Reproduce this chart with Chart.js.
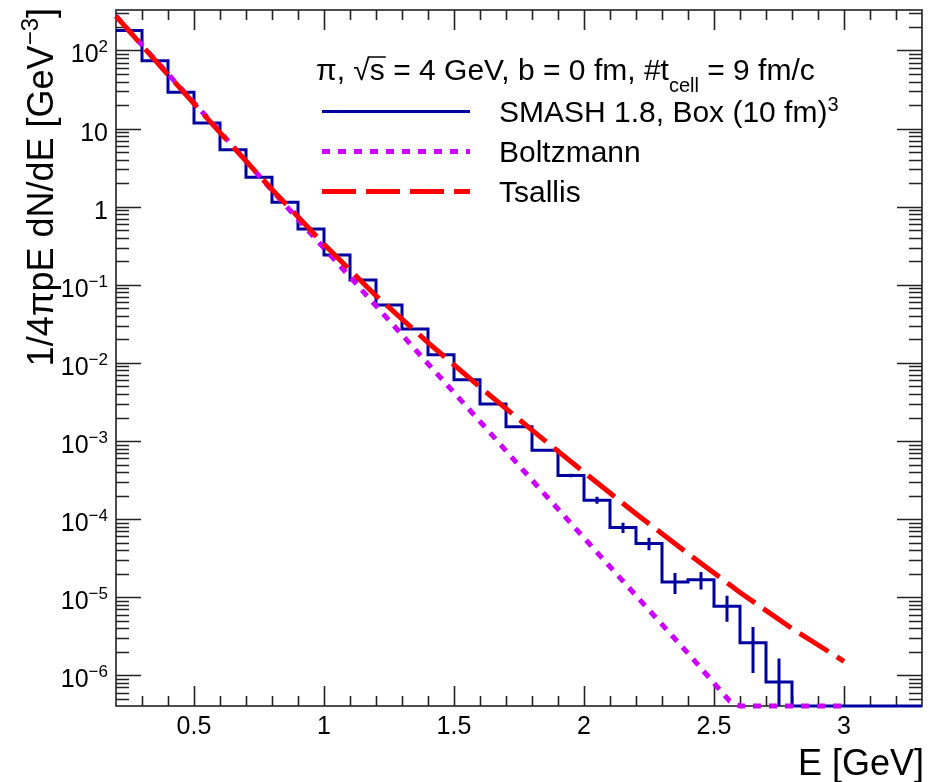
<!DOCTYPE html>
<html>
<head>
<meta charset="utf-8">
<script src="https://cdn.jsdelivr.net/npm/chart.js@4.4.0/dist/chart.umd.min.js"></script>
<style>
  html, body { margin: 0; padding: 0; background: #fff; }
  #wrap { width: 930px; height: 782px; }
</style>
</head>
<body>
<div id="wrap"><canvas id="spectrumChart" width="930" height="782"></canvas></div>
<script>
// histogram bins (E in GeV), 0.1 wide
const binEdges = [0.2, 0.3, 0.4, 0.5, 0.6, 0.7, 0.8, 0.9, 1.0, 1.1, 1.2, 1.3, 1.4, 1.5, 1.6, 1.7,
  1.8, 1.9, 2.0, 2.1, 2.2, 2.3, 2.4, 2.5, 2.6, 2.7, 2.8, 2.9, 3.0, 3.1, 3.2, 3.3];
const smashValues = [180, 73.8, 29.3, 11.8, 5.38, 2.39, 1.14, 0.519, 0.241, 0.115, 0.0551, 0.0272,
  0.0127, 6.08e-3, 2.97e-3, 1.52e-3, 7.64e-4, 3.62e-4, 1.75e-4, 7.82e-5, 4.88e-5, 1.57e-5, 1.68e-5,
  7.65e-6, 2.62e-6, 8.2e-7, 0, 0, 0, 0, 0];
const smashErrors = [0, 0, 0, 0, 0, 0, 0, 0, 0, 0, 0, 0, 0, 6e-5, 4.5e-5, 3e-5, 2.3e-5, 1.8e-5,
  1.8e-5, 1.2e-5, 8.8e-6, 4.7e-6, 4.2e-6, 2.8e-6, 1.55e-6, 8.2e-7, 0, 0, 0, 0, 0];

const boltzmannE = [0.2, 0.4, 0.6, 0.8, 1.0, 1.2, 1.4, 1.6, 1.8, 2.0, 2.2, 2.4, 2.56, 2.6, 2.8, 3.0];
const boltzmannValues = [275, 50.1, 9.12, 1.62, 0.295, 0.0537, 9.77e-3, 1.78e-3, 3.16e-4, 5.75e-5,
  1.05e-5, 1.91e-6, 4.7e-7, 3.5e-7, 6.3e-8, 1.2e-8];

const tsallisE = [0.2, 0.4, 0.6, 0.8, 1.0, 1.2, 1.4, 1.6, 1.8, 2.0, 2.2, 2.4, 2.6, 2.8, 3.0];
const tsallisValues = [275, 49, 8.9, 1.66, 0.331, 0.0724, 0.0182, 4.9e-3, 1.38e-3, 3.98e-4,
  1.17e-4, 3.63e-5, 1.15e-5, 3.98e-6, 1.51e-6];

const xTickValues = [0.5, 1, 1.5, 2, 2.5, 3];
const xTickLabels = ["0.5", "1", "1.5", "2", "2.5", "3"];
const yDecades = [-6, -5, -4, -3, -2, -1, 0, 1, 2];

const X_MIN = 0.2, X_MAX = 3.3;
const Y_MIN = 4.05e-7, Y_MAX = 330;
const FONT = '"Liberation Sans", Arial, Helvetica, sans-serif';
const LEG = 30;

const clampLow = (v) => (v > Y_MIN ? v : Y_MIN);

const histPoints = [];
smashValues.forEach((v, i) => {
  histPoints.push({ x: binEdges[i], y: clampLow(v) }, { x: binEdges[i + 1], y: clampLow(v) });
});

function drawPieces(ctx, x, y, pieces) {
  let cx = x;
  pieces.forEach((p) => {
    ctx.font = p.size + "px " + FONT;
    ctx.fillText(p.t, cx, y + (p.dy || 0));
    cx += ctx.measureText(p.t).width;
  });
  return cx;
}
function piecesWidth(ctx, pieces) {
  let w = 0;
  pieces.forEach((p) => {
    ctx.font = p.size + "px " + FONT;
    w += ctx.measureText(p.t).width;
  });
  return w;
}

const rootFrame = {
  id: "rootFrame",
  beforeDraw(chart) {
    const ctx = chart.ctx;
    ctx.save();
    ctx.fillStyle = "#fff";
    ctx.fillRect(0, 0, chart.width, chart.height);
    ctx.restore();
  },
  beforeDatasetsDraw(chart) {
    const { ctx, chartArea: a, scales: { x, y } } = chart;
    ctx.save();
    ctx.strokeStyle = "#222";
    ctx.lineWidth = 1.6;
    ctx.beginPath();
    // x ticks, every 0.1, major every 0.5
    for (let k = 3; k < 33; k++) {
      const px = Math.round(x.getPixelForValue(k / 10)) + 0.5;
      const len = k % 5 === 0 ? 20 : 10;
      ctx.moveTo(px, a.bottom); ctx.lineTo(px, a.bottom - len);
      ctx.moveTo(px, a.top); ctx.lineTo(px, a.top + len);
    }
    // y ticks, log decades
    for (let e = -7; e <= 2; e++) {
      for (let m = 1; m <= 9; m++) {
        const v = m * Math.pow(10, e);
        if (v < Y_MIN || v > Y_MAX) continue;
        const py = Math.round(y.getPixelForValue(v)) + 0.5;
        const len = m === 1 ? 25 : 13;
        ctx.moveTo(a.left, py); ctx.lineTo(a.left + len, py);
        ctx.moveTo(a.right, py); ctx.lineTo(a.right - len, py);
      }
    }
    ctx.stroke();
    ctx.strokeRect(a.left, a.top, a.right - a.left, a.bottom - a.top);

    // tick labels
    ctx.fillStyle = "#000";
    ctx.textBaseline = "alphabetic";
    ctx.font = "25px " + FONT;
    ctx.textAlign = "center";
    xTickValues.forEach((v, i) => {
      ctx.fillText(xTickLabels[i], x.getPixelForValue(v), 734);
    });
    ctx.textAlign = "left";
    yDecades.forEach((e) => {
      const py = y.getPixelForValue(Math.pow(10, e));
      let pieces;
      if (e === 0) pieces = [{ t: "1", size: 25 }];
      else if (e === 1) pieces = [{ t: "10", size: 25 }];
      else pieces = [{ t: "10", size: 25 }, { t: (e < 0 ? "\u2212" + (-e) : String(e)), size: 17, dy: -10 }];
      const w = piecesWidth(ctx, pieces);
      drawPieces(ctx, 108 - w, py + 12, pieces);
    });

    // axis titles
    ctx.font = "36px " + FONT;
    ctx.textAlign = "right";
    ctx.fillText("E [GeV]", 924, 775);
    ctx.textAlign = "left";
    const yTitle = [
      { t: "1/4\u03C0pE dN/dE [GeV", size: 36 },
      { t: "\u22123", size: 24, dy: -15 },
      { t: "]", size: 36 }
    ];
    ctx.translate(53, 8);
    ctx.rotate(-Math.PI / 2);
    drawPieces(ctx, -piecesWidth(ctx, yTitle), 0, yTitle);
    ctx.restore();
  },
  afterDatasetsDraw(chart) {
    const { ctx, scales: { x, y } } = chart;
    const hist = chart.data.datasets[0];
    ctx.save();
    ctx.strokeStyle = hist.borderColor;
    ctx.lineWidth = hist.borderWidth;
    ctx.beginPath();
    smashValues.forEach((v, i) => {
      const err = smashErrors[i];
      if (!err || v <= 0) return;
      const cx = x.getPixelForValue((binEdges[i] + binEdges[i + 1]) / 2);
      ctx.moveTo(cx, y.getPixelForValue(clampLow(v - err)));
      ctx.lineTo(cx, y.getPixelForValue(v + err));
    });
    ctx.stroke();
    ctx.restore();
  },
  afterDraw(chart) {
    const ctx = chart.ctx;
    const ds = chart.data.datasets;
    ctx.save();
    ctx.fillStyle = "#000";
    ctx.textBaseline = "alphabetic";
    ctx.textAlign = "left";
    // header line
    const base = 80;
    let cx = drawPieces(ctx, 316, base, [{ t: "\u03C0, ", size: LEG }]);
    ctx.font = LEG + "px " + FONT;
    const rad = ctx.measureText("\u221A");
    const radTop = base - rad.actualBoundingBoxAscent;
    cx = drawPieces(ctx, cx, base, [{ t: "\u221A", size: LEG }]);
    const sStart = cx;
    cx = drawPieces(ctx, cx, base, [{ t: "s", size: LEG }]);
    ctx.strokeStyle = "#000";
    ctx.lineWidth = 1.5;
    ctx.beginPath();
    ctx.moveTo(sStart - 1, radTop + 1);
    ctx.lineTo(cx + 1, radTop + 1);
    ctx.stroke();
    drawPieces(ctx, cx, base, [
      { t: " = 4 GeV, b = 0 fm, #t", size: LEG },
      { t: "cell", size: 20, dy: 12 },
      { t: " = 9 fm/c", size: LEG }
    ]);

    // legend rows
    const rows = [
      { ds: ds[0], pieces: [{ t: "SMASH 1.8, Box (10 fm)", size: LEG }, { t: "3", size: 20, dy: -11 }], y: 121.5 },
      { ds: ds[1], pieces: [{ t: "Boltzmann", size: LEG }], y: 161.5 },
      { ds: ds[2], pieces: [{ t: "Tsallis", size: LEG }], y: 201.5 }
    ];
    rows.forEach((r) => {
      ctx.save();
      ctx.strokeStyle = r.ds.borderColor;
      ctx.lineWidth = r.ds.borderWidth;
      ctx.setLineDash(r.ds.borderDash || []);
      ctx.lineCap = "butt";
      ctx.beginPath();
      ctx.moveTo(322, r.y - 10);
      ctx.lineTo(470, r.y - 10);
      ctx.stroke();
      ctx.restore();
      drawPieces(ctx, 499, r.y, r.pieces);
    });
    ctx.restore();
  }
};

const ctx = document.getElementById("spectrumChart").getContext("2d");
const spectrumChart = new Chart(ctx, {
  type: "line",
  data: {
    datasets: [
      {
        label: "SMASH 1.8, Box (10 fm)^3",
        data: histPoints,
        borderColor: "#0000a0",
        borderWidth: 3,
        pointRadius: 0,
        tension: 0,
        fill: false,
        clip: 4,
        order: 3,
      },
      {
        label: "Boltzmann",
        data: boltzmannE.map((e, i) => ({ x: e, y: clampLow(boltzmannValues[i]) })),
        borderColor: "#cc00ff",
        borderWidth: 5,
        borderDash: [8, 8],
        borderCapStyle: "butt",
        pointRadius: 0,
        tension: 0,
        fill: false,
        clip: 4,
        order: 2,
      },
      {
        label: "Tsallis",
        data: tsallisE.map((e, i) => ({ x: e, y: tsallisValues[i] })),
        borderColor: "#ff0000",
        borderWidth: 5,
        borderDash: [34, 10],
        borderCapStyle: "butt",
        pointRadius: 0,
        tension: 0,
        fill: false,
        clip: 4,
        order: 1,
      },
    ],
  },
  options: {
    responsive: false,
    animation: false,
    layout: { padding: { top: 10, right: 8, left: 0, bottom: 0 } },
    plugins: {
      legend: { display: false },
      tooltip: { enabled: false },
    },
    scales: {
      x: {
        type: "linear",
        min: X_MIN,
        max: X_MAX,
        grid: { display: false },
        border: { display: false },
        ticks: { display: false },
        afterFit: (s) => { s.height = 76; },
      },
      y: {
        type: "logarithmic",
        min: Y_MIN,
        max: Y_MAX,
        grid: { display: false },
        border: { display: false },
        ticks: { display: false },
        afterFit: (s) => { s.width = 116; },
      },
    },
  },
  plugins: [rootFrame],
});
</script>
</body>
</html>
